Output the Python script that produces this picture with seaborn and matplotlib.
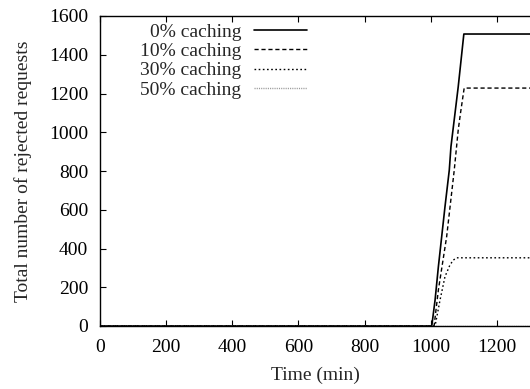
import matplotlib
matplotlib.use("Agg")
import matplotlib.pyplot as plt
import seaborn as sns
import pandas as pd

labels = ["0% caching", "10% caching", "30% caching", "50% caching"]

time0 = [0, 1003, 1013, 1023, 1043, 1056, 1061, 1083, 1100, 1300]
rej0 = [0, 0, 134, 306, 616, 805, 925, 1235, 1507, 1507]

time10 = [0, 1010, 1023, 1048, 1071, 1083, 1090, 1101, 1300]
rej10 = [0, 0, 186, 461, 805, 1012, 1100, 1228, 1228]

time30 = [0, 1013, 1028, 1043, 1058, 1068, 1078, 1300]
rej30 = [0, 0, 134, 255, 315, 340, 352, 352]

time50 = [0, 1300]
rej50 = [0, 0]

xticks = [0, 200, 400, 600, 800, 1000, 1200]
yticks = [0, 200, 400, 600, 800, 1000, 1200, 1400, 1600]

sns.set_theme(style="white")
plt.rcParams['font.family'] = ['Liberation Serif', 'DejaVu Serif']
plt.rcParams['font.size'] = 14

fig = plt.figure(figsize=(5.30, 3.89), dpi=100)
ax = fig.add_axes([100/530, 63/389, 430/530, 310/389])

series = [(time0, rej0), (time10, rej10), (time30, rej30), (time50, rej50)]
styles = [
    dict(color="black", linewidth=1.2, linestyle="-"),
    dict(color="black", linewidth=1.0, dashes=(3, 2)),
    dict(color="black", linewidth=1.0, dashes=(1.2, 1.8)),
    dict(color="#999999", linewidth=1.0, dashes=(0.8, 0.8)),
]
for (t, r), lab, st in zip(series, labels, styles):
    df = pd.DataFrame({"t": t, "r": r})
    sns.lineplot(data=df, x="t", y="r", ax=ax, label=lab, estimator=None, sort=False, **st)

ax.set_xlim(0, 1300)
ax.set_ylim(0, 1600)
ax.set_xticks(xticks)
ax.set_yticks(yticks)
ax.set_xlabel("Time (min)", fontsize=14, labelpad=8)
ax.set_ylabel("Total number of rejected requests", fontsize=14, labelpad=12)

for s in ["left", "bottom", "top"]:
    ax.spines[s].set_visible(True)
    ax.spines[s].set_color("black")
    ax.spines[s].set_linewidth(1.0)
ax.spines["right"].set_visible(False)
ax.tick_params(axis="both", which="major", direction="in", length=4, width=0.8,
               colors="black", labelsize=14, top=True, bottom=True, left=True, right=False)
ax.tick_params(axis="x", pad=9)
ax.tick_params(axis="y", pad=8.5)

leg = ax.legend(loc="upper right", bbox_to_anchor=(0.485, 0.982), frameon=False,
                markerfirst=False, handlelength=2.7, handletextpad=0.65,
                labelspacing=0.08, borderaxespad=0, borderpad=0.1, fontsize=14)
try:
    leg._legend_box.get_children()[1].get_children()[0].align = "right"
except Exception:
    pass

fig.savefig("out.png", dpi=100)
